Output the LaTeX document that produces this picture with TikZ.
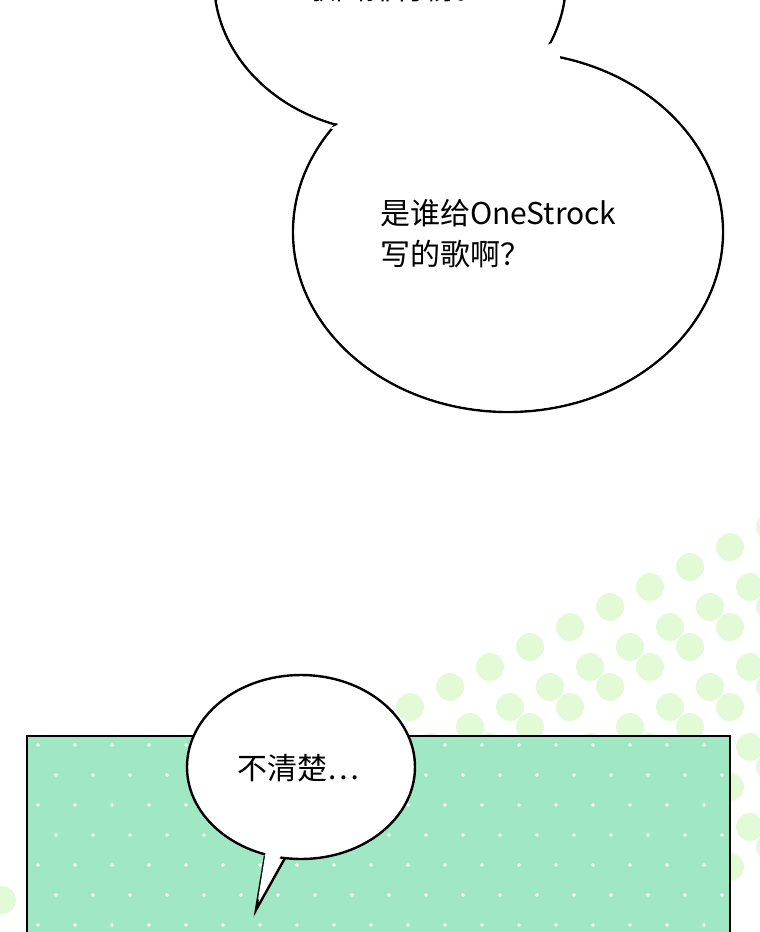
\documentclass[tikz,border=0pt]{standalone}
\usepackage{fontspec}
\newfontfamily\cjk{Noto Sans CJK SC}
\definecolor{dotg}{RGB}{226,250,214}
\begin{document}
\begin{tikzpicture}[x=1pt,y=-1pt,
  bub/.style={draw=black,line width=2.4pt},
  txt/.style={font=\cjk\fontsize{30}{41}\selectfont,anchor=west,align=left,inner sep=0}]
\useasboundingbox (0,0) rectangle (760,932);
\clip (0,0) rectangle (760,932);
% dots background
\foreach \i in {0,...,12}{\foreach \j in {0,...,8}{
  \pgfmathsetmacro{\dx}{410+\i*40+mod(\j,2)*20}
  \pgfmathsetmacro{\dy}{707-\i*20+\j*40}
  \pgfmathsetmacro{\lim}{700-(\dx-410)*0.52}
  \ifdim\dy pt>\lim pt\relax
    \fill[dotg] (\dx,\dy) circle (14);
  \fi
}}
\fill[dotg] (2,900) circle (14);
% panel
\node[draw=black,line width=2pt,fill={rgb,255:red,160;green,232;blue,196},minimum width=703,minimum height=210,anchor=north west,inner sep=0] (panel) at (26,735) {};
\begin{scope}
\clip (27,736) rectangle (728,932);
\foreach \i in {0,...,18}{\foreach \j in {0,...,6}{
  \fill[white] ({38+\i*37+mod(\j,2)*18},{745+\j*30}) circle (1.8);
}}
\end{scope}
% top bubbles
\draw[bub] (390,-20) ellipse [x radius=176, y radius=152];
\draw[bub] (508,232) ellipse [x radius=215, y radius=180];
\fill[white] (390,-20) ellipse [x radius=174.5, y radius=150.5];
\fill[white] (508,232) ellipse [x radius=213.5, y radius=178.5];
\fill[white] (330,128) -- (560,40) -- (560,80) -- (360,140) -- cycle;
\node[txt] (t0) at (305,-12) {歌曲排行榜。};
\node[txt] (t1) at (380,234) {是谁给OneStrock\\写的歌啊？};
% small bubble
\draw[bub,fill=white] (265,856) -- (256,910) -- (285,858);
\draw[bub,fill=white] (301,767) ellipse [x radius=114, y radius=92];
\fill[white] (266,850) -- (258,900) -- (284,850) -- cycle;
\node[txt] (t2) at (237,768) {不清楚⋯};
\end{tikzpicture}
\end{document}
